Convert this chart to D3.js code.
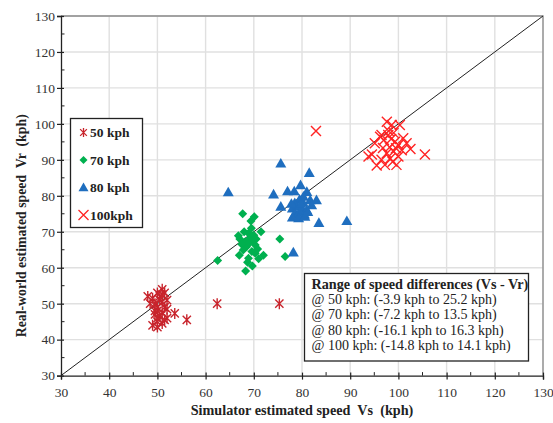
<!doctype html>
<meta charset="utf-8">
<script src="https://d3js.org/d3.v7.min.js"></script>
<style>
body{margin:0;background:#fff;}
text{font-family:"Liberation Serif","Times New Roman",serif;}
</style>
<body>
</body>
<script>
// ---------- data (x = simulator speed Vs, y = real-world speed Vr) ----------
var pts50 = [[48,52],[49,51.5],[50,53],[51,54],[51.5,53],[50.5,52],[49.5,50],[50,49],[51,50.5],[52,51],
  [50,48],[51,47.5],[50.5,46.5],[49.5,47],[51.5,49],[50,45],[49,44],[50,43.5],[51,44.5],[52,46],
  [53.6,47.3],[56.1,45.5],[49.5,48],[50.5,51],[48.5,50],[51,52.5],[52,48.5],[50,46],[51.5,45.5],
  [62.4,50],[75.3,50]];
var pts70 = [[67.7,75],[70.1,74.2],[69.4,73],[71.5,70],[66.8,68.9],[67.1,68],[68.9,69.6],[69.2,68.2],
  [68.2,67.2],[69.9,67.7],[68.5,65.8],[70.3,66.3],[67.8,64.9],[69.6,64.5],[70.3,64],[72,63.5],[68.9,62.6],
  [75.4,68],[76.5,63.1],[62.5,62],[68.3,59.1],[69.7,60.5],[69.5,71],[70,69],[68,70],[67.5,66.5],[70.5,68],
  [69,66.8],[70.8,65.2],[68.7,61.5],[71,62.5],[67,63.5]];
var pts80 = [[75.6,89],[64.7,81],[81.5,86.4],[74.1,80.4],[77,81.3],[78.4,81.3],[79.7,83],[81,81.1],
  [81.7,78.8],[83,78.8],[82,77.4],[75.6,77],[78.5,78],[79.5,79],[80.2,78.2],[78,76.5],[79,77],[80,76.5],
  [81,76],[78.5,75],[79.5,75.5],[80.5,74.8],[78,74],[79.3,73.8],[80.6,74.2],[81.2,75.5],[77.8,77.8],
  [79.8,77.8],[83.5,72.5],[89.3,73],[78.2,64.3],[80.3,79.8]];
var pts100 = [[97.6,100.6],[98.6,99.7],[100.3,99.7],[96.5,96.9],[97.9,96.9],[95.1,94.6],[96.2,96.4],
  [99.3,95],[100,94.1],[101.7,94.6],[100.7,92.7],[99,92.3],[97.6,91.8],[100,90.9],[98.3,90.4],[93.8,90.9],
  [96.5,90],[95.5,88.4],[97.2,88.6],[99.6,88.6],[98,98],[97,95.5],[98.5,95.8],[99,97.5],[98.2,93.5],
  [99.5,93.2],[101,96],[102.5,93],[105.5,91.5],[96.8,93.3],[94.5,91.5],[98.8,89.5],[82.9,98]];
var legendLabels = ["50 kph","70 kph","80 kph","100kph"];
var noteLines = ["Range of speed differences (Vs - Vr)",
  "@ 50 kph: (-3.9 kph to 25.2 kph)",
  "@ 70 kph: (-7.2 kph to 13.5 kph)",
  "@ 80 kph: (-16.1 kph to 16.3 kph)",
  "@ 100 kph: (-14.8 kph to 14.1 kph)"];
var xTicks = d3.range(30, 131, 10);
var yTicks = d3.range(30, 131, 10);
var minorTicks = d3.range(35, 130, 10);

var W = 553, H = 423;
var m = {left: 61, right: 10, top: 16, bottom: 47.4};
var svg = d3.select("body").append("svg").attr("width", W).attr("height", H);

var x = d3.scaleLinear().domain([30,130]).range([m.left, W - m.right]);
var y = d3.scaleLinear().domain([30,130]).range([H - m.bottom, m.top]);

// grid
svg.append("g").selectAll("line").data(xTicks.slice(1)).enter().append("line")
  .attr("x1", d => x(d)).attr("x2", d => x(d)).attr("y1", y(30)).attr("y2", y(130))
  .attr("stroke", "#e0e0e0").attr("stroke-width", 1.4);
svg.append("g").selectAll("line").data(yTicks.slice(1)).enter().append("line")
  .attr("x1", x(30)).attr("x2", x(130)).attr("y1", d => y(d)).attr("y2", d => y(d))
  .attr("stroke", "#e0e0e0").attr("stroke-width", 1.4);

// top / right frame
svg.append("path")
  .attr("d", "M" + x(30) + "," + y(130) + "H" + x(130) + "V" + y(30))
  .attr("fill", "none").attr("stroke", "#8a8a8a").attr("stroke-width", 1.3);

// diagonal y = x
svg.append("line").attr("x1", x(30)).attr("y1", y(30)).attr("x2", x(130)).attr("y2", y(130))
  .attr("stroke", "#222").attr("stroke-width", 1);

// axes
var xAxis = svg.append("g").attr("transform", "translate(0," + y(30) + ")")
  .call(d3.axisBottom(x).tickValues(xTicks).tickSize(4).tickFormat(d3.format("d")));
var yAxis = svg.append("g").attr("transform", "translate(" + x(30) + ",0)")
  .call(d3.axisLeft(y).tickValues(yTicks).tickSize(4).tickFormat(d3.format("d")));
[xAxis, yAxis].forEach(function(a){
  a.select(".domain").attr("stroke", "#222").attr("stroke-width", 1.3);
  a.selectAll(".tick line").attr("stroke", "#222").attr("stroke-width", 1.2);
  a.selectAll(".tick text").attr("font-family", "Liberation Serif").attr("font-size", 13.5).attr("fill", "#333");
});
xAxis.selectAll(".tick line").attr("y1", -3);
yAxis.selectAll(".tick line").attr("x1", 3);
xAxis.selectAll(".tick text").attr("dy", "1.05em");
yAxis.selectAll(".tick text").attr("x", -6);
// minor ticks (inside)
svg.append("g").selectAll("line").data(minorTicks).enter().append("line")
  .attr("x1", d => x(d)).attr("x2", d => x(d)).attr("y1", y(30)).attr("y2", y(30) - 3.5)
  .attr("stroke", "#222");
svg.append("g").selectAll("line").data(minorTicks).enter().append("line")
  .attr("x1", x(30)).attr("x2", x(30) + 3.5).attr("y1", d => y(d)).attr("y2", d => y(d))
  .attr("stroke", "#222");

// axis titles
svg.append("text").attr("x", (x(30) + x(130)) / 2).attr("y", 415).attr("text-anchor", "middle")
  .attr("font-weight", "bold").attr("font-size", 14.2).attr("fill", "#222")
  .attr("xml:space", "preserve").text("Simulator estimated speed  Vs  (kph)");
svg.append("text").attr("transform", "translate(26," + ((y(30) + y(130)) / 2 + 30) + ") rotate(-90)")
  .attr("text-anchor", "middle").attr("font-weight", "bold").attr("font-size", 13.8).attr("fill", "#222")
  .attr("xml:space", "preserve").text("Real-world estimated speed  Vr  (kph)");

// ---------- markers ----------
var colors = ["#c8242c", "#00b04f", "#1f6ebf", "#ff2424"];
function asterisk(s){ var r = s/2, d = r*0.75;
  return "M" + (-d) + "," + (-d) + "L" + d + "," + d + "M" + (-d) + "," + d + "L" + d + "," + (-d) + "M0," + (-r) + "L0," + r; }
function cross(s){ var r = s/2;
  return "M" + (-r) + "," + (-r) + "L" + r + "," + r + "M" + (-r) + "," + r + "L" + r + "," + (-r); }
function diamond(s){ var r = s/2;
  return "M0," + (-r) + "L" + r + ",0L0," + r + "L" + (-r) + ",0Z"; }
function triangle(s){ var r = s/2;
  return "M0," + (-r) + "L" + r + "," + (r*0.75) + "L" + (-r) + "," + (r*0.75) + "Z"; }

function drawSet(data, pathFn, size, col, stroke){
  svg.append("g").selectAll("path").data(data).enter().append("path")
    .attr("transform", d => "translate(" + x(d[0]) + "," + y(d[1]) + ")")
    .attr("d", pathFn(size))
    .attr("fill", stroke ? "none" : col)
    .attr("stroke", stroke ? col : "none")
    .attr("stroke-width", stroke ? 1.4 : 0);
}
drawSet(pts70, diamond, 9, colors[1], false);
drawSet(pts80, triangle, 11, colors[2], false);
drawSet(pts50, asterisk, 11, colors[0], true);
drawSet(pts100, cross, 10, colors[3], true);

// ---------- legend ----------
var lg = svg.append("g");
lg.append("rect").attr("x", 70.5).attr("y", 118.5).attr("width", 72).attr("height", 109)
  .attr("fill", "#fff").attr("stroke", "#222").attr("stroke-width", 1.3);
var legShapes = [asterisk, diamond, triangle, cross];
var legSizes = [9, 8, 10, 10];
legendLabels.forEach(function(l, i){
  var yy = 132.5 + i * 27.5;
  lg.append("path").attr("transform", "translate(83.5," + yy + ")")
    .attr("d", legShapes[i](legSizes[i]))
    .attr("fill", (i == 1 || i == 2) ? colors[i] : "none")
    .attr("stroke", (i == 1 || i == 2) ? "none" : colors[i]).attr("stroke-width", 1.3);
  lg.append("text").attr("x", 90).attr("y", yy + 4.5).attr("font-weight", "bold")
    .attr("font-size", 13.5).attr("fill", "#222").text(l);
});

// ---------- note box ----------
var nb = svg.append("g");
nb.append("rect").attr("x", 304.5).attr("y", 273.5).attr("width", 224).attr("height", 87.5)
  .attr("fill", "#fff").attr("stroke", "#222").attr("stroke-width", 1.3);
noteLines.forEach(function(t, i){
  nb.append("text").attr("x", 311.5).attr("y", 289 + i * 15.2)
    .attr("font-size", i == 0 ? 14.2 : 14).attr("font-weight", i == 0 ? "bold" : "normal")
    .attr("fill", "#222").text(t);
});
</script>
